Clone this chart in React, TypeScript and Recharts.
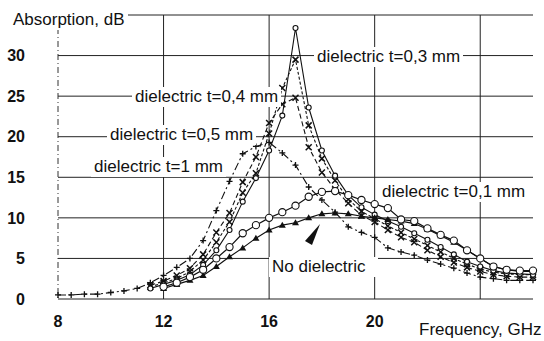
import React from 'react';
import {
  LineChart,
  Line,
  XAxis,
  YAxis,
  CartesianGrid,
  ReferenceLine,
} from 'recharts';

const freq = [
  8, 8.5, 9, 9.5, 10, 10.5, 11, 11.5, 12, 12.5, 13, 13.5, 14, 14.5, 15, 15.5,
  16, 16.5, 17, 17.5, 18, 18.5, 19, 19.5, 20, 20.5, 21, 21.5, 22, 22.5, 23,
  23.5, 24, 24.5, 25, 25.5, 26,
];

const t1mm = [
  0.5, 0.5, 0.6, 0.6, 0.8, 1.0, 1.3, 2.0, 2.9, 3.9, 5.0, 7.2, 10.9, 14.5, 17.9,
  18.8, 19.3, 18.0, 16.5, 13.8, 12.2, 10.7, 8.9, 8.2, 7.6, 6.3, 5.8, 5.4, 4.8,
  4.3, 3.8, 3.2, 2.7, 2.5, 2.3, 2.3, 2.3,
];

const t05mm = [
  null, null, null, null, null, null, null, 1.7, 2.2, 2.9, 3.8, 5.5, 8.2, 10.6,
  14.4, 17.5, 21.7, 24.0, 24.8, 18.7, 15.6, 13.5, 11.8, 10.3, 9.5, 8.5, 7.6,
  7.0, 6.0, 5.2, 4.5, 3.9, 3.4, 3.0, 2.8, 2.7, 2.7,
];

const t04mm = [
  null, null, null, null, null, null, null, 1.5, 2.0, 2.5, 3.4, 4.8, 7.0, 9.5,
  13.1, 15.5, 20.4, 26.0, 29.5, 21.4, 17.3, 14.6, 12.3, 10.8, 9.9, 9.0, 8.2,
  7.4, 6.6, 5.8, 5.0, 4.3, 3.7, 3.3, 3.1, 3.0, 3.0,
];

const t03mm = [
  null, null, null, null, null, null, null, 1.3, 1.8, 2.3, 3.0, 4.2, 6.0, 8.5,
  12.0, 14.9, 18.3, 22.6, 33.4, 23.6, 18.3, 15.2, 12.8, 11.3, 10.4, 9.6, 8.9,
  8.1, 7.3, 6.4, 5.5, 4.6, 4.0, 3.5, 3.2, 3.1, 3.0,
];

const t01mm = [
  null, null, null, null, null, null, null, null, 1.5, 2.0, 2.7, 3.6, 5.0, 6.4,
  8.1, 9.1, 10.0, 10.7, 11.5, 12.6, 13.2, 13.3, 12.8, 12.2, 11.7, 11.2, 9.8,
  9.6, 8.7, 7.9, 7.2, 6.0, 5.0, 4.0, 3.6, 3.5, 3.5,
];

const noDielectric = [
  null, null, null, null, null, null, null, null, 1.3, 1.8, 2.3, 2.9, 4.0, 5.2,
  6.3, 7.5, 8.5, 9.1, 9.4, 10.0, 10.5, 10.6, 10.5, 10.2, 10.0, 9.8, 9.6, 9.3,
  8.6, 7.8, 7.0, 6.0, 5.0, 4.0, 3.6, 3.4, 3.4,
];

const xTicks = [8, 12, 16, 20, 24];
const yTicks = [0, 5, 10, 15, 20, 25, 30, 35];

const data = freq.map((f, i) => ({
  f,
  t1: t1mm[i],
  t05: t05mm[i],
  t04: t04mm[i],
  t03: t03mm[i],
  t01: t01mm[i],
  none: noDielectric[i],
}));

const INK = '#111';
const FONT = '"Liberation Sans", Arial, sans-serif';

const empty = (p: any) => <g key={`${p.dataKey}-${p.index}`} />;

const plusDot = (p: any) =>
  p.cy == null ? empty(p) : (
    <path
      key={`${p.dataKey}-${p.index}`}
      d={`M${p.cx - 3},${p.cy}h6M${p.cx},${p.cy - 3}v6`}
      stroke={INK}
      strokeWidth={1.3}
    />
  );

const crossDot = (p: any) =>
  p.cy == null ? empty(p) : (
    <path
      key={`${p.dataKey}-${p.index}`}
      d={`M${p.cx - 3},${p.cy - 3}l6,6M${p.cx + 3},${p.cy - 3}l-6,6`}
      stroke={INK}
      strokeWidth={1.5}
    />
  );

const smallCircle = (p: any) =>
  p.cy == null ? empty(p) : (
    <circle key={`${p.dataKey}-${p.index}`} cx={p.cx} cy={p.cy} r={2.5} fill="#fff" stroke={INK} strokeWidth={1.1} />
  );

const bigCircle = (p: any) =>
  p.cy == null ? empty(p) : (
    <circle key={`${p.dataKey}-${p.index}`} cx={p.cx} cy={p.cy} r={3.6} fill="#fff" stroke={INK} strokeWidth={1.1} />
  );

const triangleDot = (p: any) =>
  p.cy == null ? empty(p) : (
    <path
      key={`${p.dataKey}-${p.index}`}
      d={`M${p.cx},${p.cy - 3.5}L${p.cx + 3.5},${p.cy + 2.5}L${p.cx - 3.5},${p.cy + 2.5}Z`}
      fill={INK}
    />
  );

const labelStyle: React.CSSProperties = {
  position: 'absolute',
  background: '#fff',
  fontFamily: FONT,
  fontSize: 17,
  lineHeight: '20px',
  color: INK,
  whiteSpace: 'nowrap',
  padding: '0 3px',
};

function Note({ x, y, text, pad }: { x: number; y: number; text: string; pad?: string }) {
  return (
    <div style={{ ...labelStyle, left: x - 3, top: y - 10, padding: pad ?? '0 3px' }}>{text}</div>
  );
}

export default function App() {
  const tickStyle = { fontFamily: FONT, fontSize: 16, fontWeight: 'bold', fill: INK };
  return (
    <div style={{ position: 'absolute', left: 0, top: 0, width: 544, height: 341, background: '#fff' }}>
      <LineChart
        width={544}
        height={341}
        data={data}
        margin={{ top: 15, right: 11, bottom: 12, left: 0 }}
      >
        <CartesianGrid vertical={false} stroke="#222" strokeWidth={1} />
        {[12, 16, 20, 24].map((v) => (
          <ReferenceLine key={v} x={v} stroke="#222" strokeWidth={1} />
        ))}
        <XAxis
          dataKey="f"
          type="number"
          domain={[8, 26]}
          ticks={xTicks}
          tickFormatter={(v) => (v === 24 ? '' : String(v))}
          axisLine={false}
          tickLine={false}
          height={30}
          tickSize={0}
          tickMargin={17}
          tick={tickStyle}
        />
        <YAxis
          type="number"
          domain={[0, 35]}
          ticks={yTicks}
          tickFormatter={(v) => (v === 35 ? '' : String(v))}
          width={58}
          axisLine={{ stroke: '#333', strokeDasharray: '6 3 1 3' }}
          tickLine={false}
          tickSize={0}
          tickMargin={33}
          tick={tickStyle}
        />
        <Line type="linear" dataKey="t1" stroke={INK} strokeWidth={1.1} strokeDasharray="8 3 2 3" dot={plusDot} activeDot={false} isAnimationActive={false} />
        <Line type="linear" dataKey="t05" stroke={INK} strokeWidth={1.1} strokeDasharray="5 3" dot={crossDot} activeDot={false} isAnimationActive={false} />
        <Line type="linear" dataKey="t04" stroke={INK} strokeWidth={1.1} strokeDasharray="3 2" dot={crossDot} activeDot={false} isAnimationActive={false} />
        <Line type="linear" dataKey="t03" stroke={INK} strokeWidth={1.1} dot={smallCircle} activeDot={false} isAnimationActive={false} />
        <Line type="linear" dataKey="none" stroke={INK} strokeWidth={1.2} dot={triangleDot} activeDot={false} isAnimationActive={false} />
        <Line type="linear" dataKey="t01" stroke={INK} strokeWidth={1.2} dot={bigCircle} activeDot={false} isAnimationActive={false} />
      </LineChart>

      <Note x={13} y={20} text="Absorption, dB" />
      <Note x={317} y={57} text="dielectric t=0,3 mm" />
      <Note x={135} y={97} text="dielectric t=0,4 mm" />
      <Note x={110} y={135} text="dielectric t=0,5 mm" />
      <Note x={94} y={167} text="dielectric t=1 mm" />
      <Note x={382} y={192} text="dielectric t=0,1 mm" />
      <Note x={272} y={267} text="No dielectric" pad="0 12px 0 3px" />
      <Note x={419} y={330} text="Frequency, GHz" />

      <svg width={544} height={341} style={{ position: 'absolute', left: 0, top: 0, pointerEvents: 'none' }}>
        <polygon points="320,224 305,241 312,245" fill={INK} />
      </svg>
    </div>
  );
}
